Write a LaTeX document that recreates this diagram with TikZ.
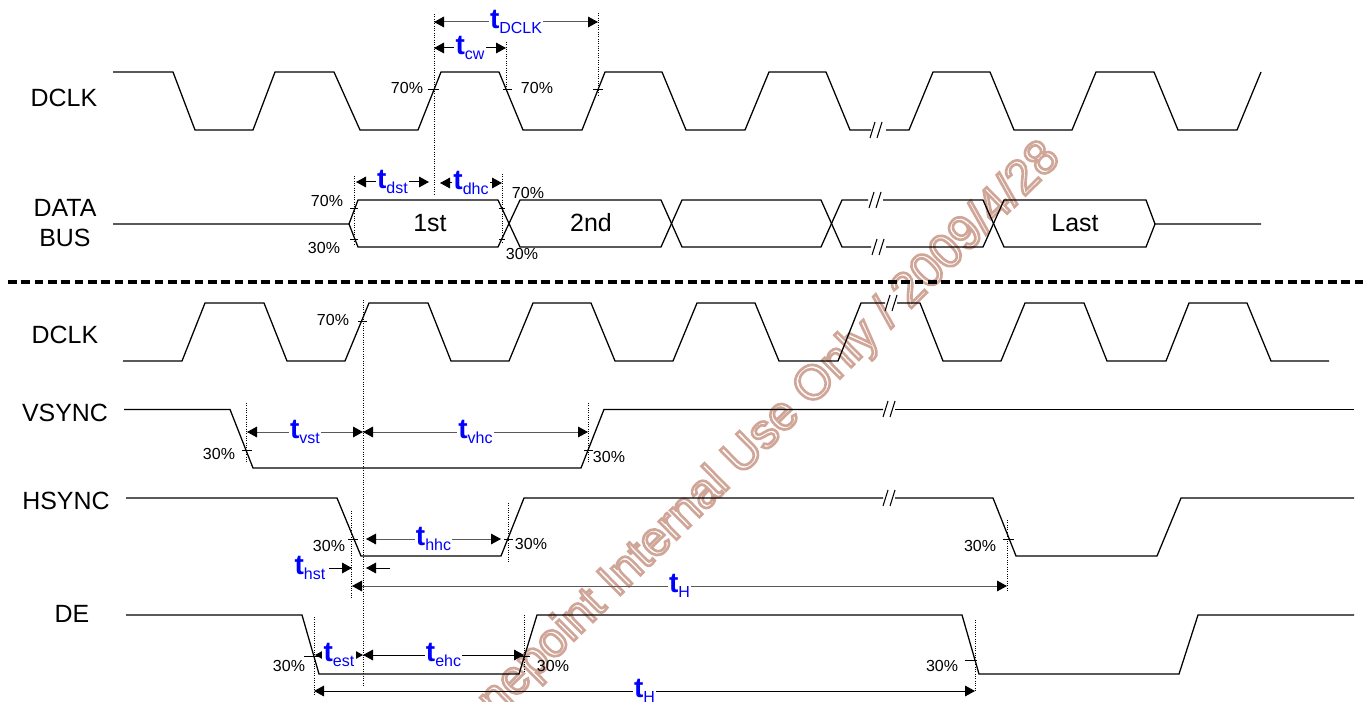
\documentclass[tikz,border=0pt]{standalone}
\usepackage{fontspec}
\setmainfont{Liberation Sans}
\setsansfont{Liberation Sans}
\newfontfamily\markfont[FakeBold=5.5]{Liberation Sans}
\usetikzlibrary{arrows.meta}
\definecolor{tblue}{RGB}{0,0,255}
\newcommand{\tsym}[1]{{\fontsize{21}{21}\selectfont\bfseries t}{\fontsize{12}{12}\selectfont\raisebox{-3.5pt}{#1}}}
\tikzset{
  wave/.style={line width=0.95pt, line join=miter},
  guide/.style={densely dotted, line width=0.75pt},
  tick/.style={line width=0.6pt},
  dimarrow/.style={{Triangle[length=7.5pt,width=8pt,color=black]}-{Triangle[length=7.5pt,width=8pt,color=black]}, line width=0.75pt, black},
  softline/.style={draw=black!65},
  halfarrow/.style={-{Triangle[length=7.5pt,width=8pt]}, line width=0.75pt},
  tlabel/.style={text=tblue, fill=white, inner sep=1pt},
  pct/.style={font=\fontsize{12}{12}\selectfont, inner sep=0pt},
  signame/.style={font=\fontsize{18.7}{18.7}\selectfont, inner sep=0pt, align=center},
  datatext/.style={font=\fontsize{18.7}{18.7}\selectfont, inner sep=0pt},
  slash/.style={line width=0.8pt},
}
\begin{document}
\begin{tikzpicture}[x=0.75pt, y=-0.75pt]
  \useasboundingbox (0,0) rectangle (1366,702);

  % Watermark
  \node[rotate=44.6, text=white, font=\markfont\fontsize{36}{36}\selectfont, inner sep=0pt] (markback) at (770,430) {\special{pdf:code 0.815 0.65 0.6 RG}nepoint Internal Use Only / 2009/4/28};

  % Signal names
  \node[signame] (nclka) at (64,98)  {DCLK};
  \node[signame] (ndata) at (65,223) {DATA\\[4pt]BUS};
  \node[signame] (nclkb) at (65,335) {DCLK};
  \node[signame] (nvs)   at (65,413) {VSYNC};
  \node[signame] (nhs)   at (66,501) {HSYNC};
  \node[signame] (nde)   at (72,614) {DE};

  % Waveforms, upper part
  \draw[wave] (113,72) -- (173,72) -- (195,130) -- (253,130) -- (275,72) -- (334,72) -- (360,130) -- (418,130) -- (441,72) -- (499,72) -- (523,130) -- (582,130) -- (605,72) -- (662,72) -- (686,130) -- (745,130) -- (769,72) -- (826,72) -- (850,130) -- (871,130);
  \draw[wave] (886,130) -- (909,130) -- (933,72) -- (990,72) -- (1014,130) -- (1072,130) -- (1096,72) -- (1154,72) -- (1178,130) -- (1237,130) -- (1261,72);
  \draw[wave] (113,224) -- (349,224) -- (358,200) -- (498,200) -- (520,247) -- (661,247) -- (682,200) -- (821,200) -- (842,247) -- (871,247);
  \draw[wave] (349,224) -- (358,247) -- (498,247) -- (520,200) -- (661,200) -- (682,247) -- (821,247) -- (842,200) -- (868,200);
  \draw[wave] (883,200) -- (983,200) -- (1004,247) -- (1146,247) -- (1155,224) -- (1261,224);
  \draw[wave] (886,247) -- (983,247) -- (1004,200) -- (1146,200) -- (1155,224);

  % Separator
  \draw[line width=3pt, dash pattern=on 6.5pt off 3.5pt] (8,282) -- (1366,282);

  % Waveforms, lower part
  \draw[wave] (123,361) -- (182,361) -- (205,303) -- (264,303) -- (287,361) -- (345,361) -- (369,303) -- (428,303) -- (451,361) -- (509,361) -- (533,303) -- (591,303) -- (615,361) -- (673,361) -- (697,303) -- (755,303) -- (779,361) -- (838,361) -- (861,303) -- (885,303);
  \draw[wave] (897,303) -- (920,303) -- (943,361) -- (1001,361) -- (1025,303) -- (1084,303) -- (1107,361) -- (1166,361) -- (1189,303) -- (1247,303) -- (1271,361) -- (1329,361);
  \draw[wave] (124,409.4) -- (230,409.4) -- (253,468) -- (581,468) -- (604,409.4) -- (883,409.4);
  \draw[wave] (895,409.4) -- (1354,409.4);
  \draw[wave] (126,498) -- (337,498) -- (361,556) -- (501,556) -- (524,498) -- (883,498);
  \draw[wave] (895,498) -- (993,498) -- (1016,556) -- (1157,556) -- (1181,498) -- (1354,498);
  \draw[wave] (126,615) -- (302,615) -- (319,674) -- (519,674) -- (537,615) -- (962,615) -- (979,674) -- (1179,674) -- (1198,615) -- (1354,615);

  % Break marks
  \foreach \x/\y in {876/130, 875/200, 878/247, 891/303, 889/409, 889/498} {
    \draw[slash] ({\x-6},\y+8) -- ({\x-1},\y-8);
    \draw[slash] ({\x+1},\y+8) -- ({\x+6},\y-8);
  }

  % Dotted guides
  \foreach \x/\ya/\yb in {434/14/196, 506/42/89, 598/13/95, 354/176/246, 502/174/243, 363/300/686, 246/403/463, 588/403/463, 351/511/598, 508/503/563, 314/617/695, 524/615/673, 1007/520/592, 975/620/692} {
    \draw[guide] (\x,\ya) -- (\x,\yb);
  }

  % Level ticks
  \foreach \xa/\xb/\y in {428/439/89, 503/512/89, 593/603/89, 350/358/208, 350/358/239, 499/505/208, 499/505/239, 358/367/321, 242/252/450, 584/593/450, 348/358/539, 504/513/539, 304/318/656, 518/530/656, 1003/1014/539, 965/977/660} {
    \draw[tick] (\xa,\y) -- (\xb,\y);
  }

  % Level labels
  \node[pct] (pa) at (407,88)  {70\%};
  \node[pct] (pb) at (537,88)  {70\%};
  \node[pct] (pc) at (327,201) {70\%};
  \node[pct] (pd) at (324,248) {30\%};
  \node[pct] (pe) at (528,193) {70\%};
  \node[pct] (pf) at (522,254) {30\%};
  \node[pct] (pg) at (333,320) {70\%};
  \node[pct] (ph) at (219,454) {30\%};
  \node[pct] (pi) at (609,457) {30\%};
  \node[pct] (pj) at (329,546) {30\%};
  \node[pct] (pk) at (531,544) {30\%};
  \node[pct] (pl) at (980,546) {30\%};
  \node[pct] (pm) at (289,666) {30\%};
  \node[pct] (pn) at (553,666) {30\%};
  \node[pct] (po) at (942,666) {30\%};

  % Data labels
  \node[datatext] (first)  at (430,223) {1st};
  \node[datatext] (second) at (591,223) {2nd};
  \node[datatext] (last)   at (1075,223) {Last};

  % Timing arrows
  \coordinate (dclkl) at (434,22);  \coordinate (dclkr) at (598,22);
  \coordinate (cwl)   at (434,48);  \coordinate (cwr)   at (506,48);
  \coordinate (dstl)  at (356,182); \coordinate (dstr)  at (429,182);
  \coordinate (dhcl)  at (440,183); \coordinate (dhcr)  at (502,183);
  \coordinate (vstl)  at (247,432); \coordinate (vstr)  at (363,432);
  \coordinate (vhcl)  at (363,432); \coordinate (vhcr)  at (588,432);
  \coordinate (hhcl)  at (366,539); \coordinate (hhcr)  at (501,539);
  \coordinate (thal)  at (352,586); \coordinate (thar)  at (1007,586);
  \coordinate (estl)  at (315,655); \coordinate (estr)  at (363,655);
  \coordinate (ehcl)  at (363,655); \coordinate (ehcr)  at (524,655);
  \coordinate (thbl)  at (314,691); \coordinate (thbr)  at (975,691);
  \coordinate (hstl)  at (329,568); \coordinate (hstm)  at (352,568);
  \coordinate (hstn)  at (366,568); \coordinate (hstr)  at (390,568);

  \draw[dimarrow, softline] (dclkl) -- node[tlabel] (tdclk) {\tsym{DCLK}} (dclkr);
  \draw[dimarrow] (cwl) -- node[tlabel] (tcw) {\tsym{cw}} (cwr);
  \draw[dimarrow] (dstl) -- node[tlabel] (tdst) {\tsym{dst}} (dstr);
  \draw[dimarrow] (dhcl) -- node[tlabel] (tdhc) {\tsym{dhc}} (dhcr);
  \draw[dimarrow, softline] (vstl) -- node[tlabel] (tvst) {\tsym{vst}} (vstr);
  \draw[dimarrow, softline] (vhcl) -- node[tlabel] (tvhc) {\tsym{vhc}} (vhcr);
  \draw[dimarrow, softline] (hhcl) -- node[tlabel] (thhc) {\tsym{hhc}} (hhcr);
  \draw[dimarrow, softline] (thal) -- node[tlabel] (tha) {\tsym{H}} (thar);
  \draw[dimarrow] (estl) -- node[tlabel] (test) {\tsym{est}} (estr);
  \draw[dimarrow] (ehcl) -- node[tlabel] (tehc) {\tsym{ehc}} (ehcr);
  \draw[dimarrow] (thbl) -- node[tlabel] (thb) {\tsym{H}} (thbr);
  \draw[halfarrow] (hstl) -- (hstm);
  \draw[halfarrow] (hstr) -- (hstn);
  \node[tlabel] (thst) at (310,568) {\tsym{hst}};
\end{tikzpicture}
\end{document}
